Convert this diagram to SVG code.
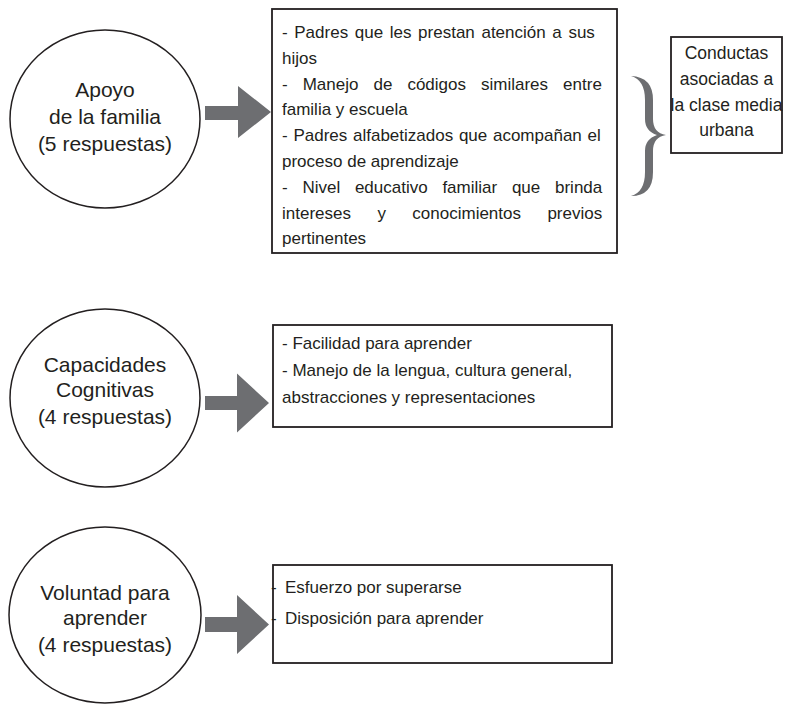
<svg xmlns="http://www.w3.org/2000/svg" width="791" height="704" viewBox="0 0 791 704">
<style>
.circ{fill:#fff;stroke:#231f20;stroke-width:1.5}
.box{fill:#fff;stroke:#231f20;stroke-width:1.8}
.arr{fill:#6d6e71}
.ct{font-family:"Liberation Sans",Arial,sans-serif;font-size:21px;fill:#231f20;text-anchor:middle}
.bt{font-family:"Liberation Sans",Arial,sans-serif;font-size:17px;fill:#231f20}
.mt{font-family:"Liberation Sans",Arial,sans-serif;font-size:17.5px;fill:#231f20;text-anchor:middle}
</style>
<rect width="791" height="704" fill="#fff"/>
<g id="connectors">
<path class="arr" d="M205,106 H238 V86 L271,112 L238,138 V120 H205 Z"/>
<path class="arr" d="M205,396 H237 V373.5 L269,403 L237,432.5 V410 H205 Z"/>
<path class="arr" d="M205,617 H237 V595 L269,624.5 L237,654 V632 H205 Z"/>
<path class="arr" d="M631,76 Q653,77 653,100 L653,119 Q653,133 666,135 Q653,137 653,151 L653,172 Q653,196 631,196 Q645,192 645,172 L645,151 Q645,139 657,135 Q645,131 645,119 L645,100 Q645,80 631,76 Z"/>
</g>
<g id="apoyo">
<ellipse class="circ" cx="105" cy="119" rx="95" ry="89"/>
<text class="ct" x="105" y="97">Apoyo</text>
<text class="ct" x="105" y="124">de la familia</text>
<text class="ct" x="105" y="151">(5 respuestas)</text>
</g>
<g id="apoyo-box">
<rect class="box" x="272" y="9" width="345" height="244"/>
<text class="bt" x="282" y="38" word-spacing="1.9">- Padres que les prestan atención a sus</text>
<text class="bt" x="282" y="63.8">hijos</text>
<text class="bt" x="282" y="89.6" word-spacing="10.3">- Manejo de códigos similares entre</text>
<text class="bt" x="282" y="115.4">familia y escuela</text>
<text class="bt" x="282" y="141.2" word-spacing="1">- Padres alfabetizados que acompañan el</text>
<text class="bt" x="282" y="167">proceso de aprendizaje</text>
<text class="bt" x="282" y="192.8" word-spacing="10">- Nivel educativo familiar que brinda</text>
<text class="bt" x="282" y="218.6" word-spacing="21.7">intereses y conocimientos previos</text>
<text class="bt" x="282" y="244.4">pertinentes</text>
</g>
<g id="conductas">
<rect class="box" x="671" y="37" width="111" height="116"/>
<text class="mt" x="726.5" y="59">Conductas</text>
<text class="mt" x="726.5" y="85">asociadas a</text>
<text class="mt" x="726.5" y="111">la clase media</text>
<text class="mt" x="726.5" y="136">urbana</text>
</g>
<g id="capacidades">
<ellipse class="circ" cx="105" cy="398" rx="95" ry="89"/>
<text class="ct" x="105" y="372">Capacidades</text>
<text class="ct" x="105" y="397">Cognitivas</text>
<text class="ct" x="105" y="424">(4 respuestas)</text>
</g>
<g id="capacidades-box">
<rect class="box" x="273" y="325" width="339" height="102"/>
<text class="bt" x="282" y="349">- Facilidad para aprender</text>
<text class="bt" x="282" y="376">- Manejo de la lengua, cultura general,</text>
<text class="bt" x="282" y="403">abstracciones y representaciones</text>
</g>
<g id="voluntad">
<ellipse class="circ" cx="105" cy="615" rx="96" ry="88"/>
<text class="ct" x="105" y="600">Voluntad para</text>
<text class="ct" x="105" y="625">aprender</text>
<text class="ct" x="105" y="652">(4 respuestas)</text>
</g>
<g id="voluntad-box">
<rect class="box" x="273" y="565" width="339" height="98"/>
<text class="bt" y="593"><tspan x="271">- </tspan><tspan x="285">Esfuerzo por superarse</tspan></text>
<text class="bt" y="624"><tspan x="271">- </tspan><tspan x="285">Disposición para aprender</tspan></text>
</g>
</svg>
